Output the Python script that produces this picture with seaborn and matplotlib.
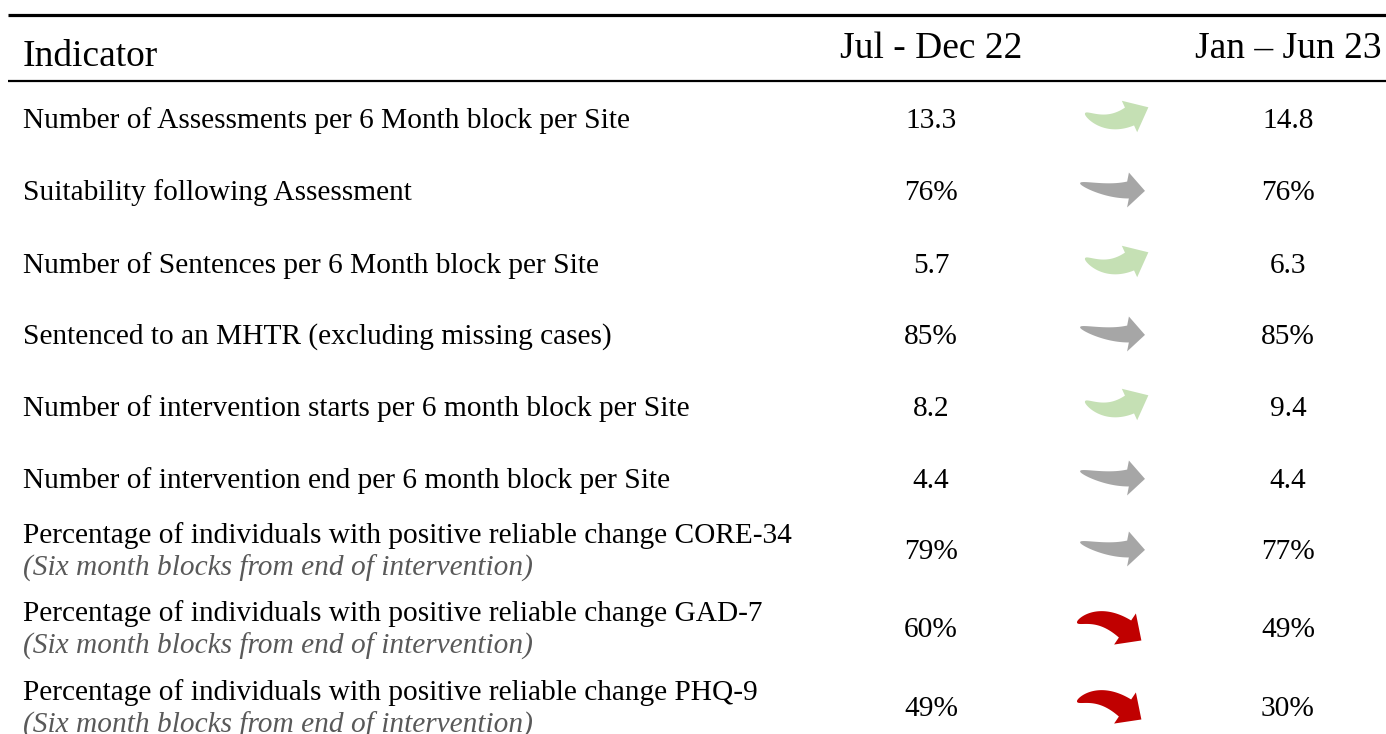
import matplotlib
matplotlib.use("Agg")
import numpy as np
import matplotlib.pyplot as plt
from matplotlib.patches import Polygon
import seaborn as sns

# ---- data ----
indicators = [
    "Number of Assessments per 6 Month block per Site",
    "Suitability following Assessment",
    "Number of Sentences per 6 Month block per Site",
    "Sentenced to an MHTR (excluding missing cases)",
    "Number of intervention starts per 6 month block per Site",
    "Number of intervention end per 6 month block per Site",
    "Percentage of individuals with positive reliable change CORE-34",
    "Percentage of individuals with positive reliable change GAD-7",
    "Percentage of individuals with positive reliable change PHQ-9",
]
subtitles = [None, None, None, None, None, None,
             "(Six month blocks from end of intervention)",
             "(Six month blocks from end of intervention)",
             "(Six month blocks from end of intervention)"]
jul_dec_22 = [13.3, 76, 5.7, 85, 8.2, 4.4, 79, 60, 49]
jan_jun_23 = [14.8, 76, 6.3, 85, 9.4, 4.4, 77, 49, 30]
is_percent = [False, True, False, True, False, False, True, True, True]
trend = ["up", "same", "up", "same", "up", "same", "same", "down", "down"]
header = ["Indicator", "Jul - Dec 22", "Jan \u2013 Jun 23"]

# ---- style ----
sns.set_theme(style="white")
plt.rcParams["font.family"] = ["Liberation Serif", "DejaVu Serif"]

W, H = 1386, 734
fig = plt.figure(figsize=(W / 100, H / 100), dpi=100)
ax = fig.add_axes([0, 0, 1, 1])
ax.set_xlim(0, W)
ax.set_ylim(H, 0)
ax.axis("off")

# layout
x_label = 23
x_col1 = 931
x_arrow = 1113
x_col2 = 1288
row_y = [118, 190, 263, 334, 406, 478, 549, 627, 706]
fs_head = 27
fs_body = 21.2
dy = 3  # vertical text nudge

ax.plot([8, W], [15, 15], color="black", lw=2.3, solid_capstyle="butt")
ax.plot([8, W], [81, 81], color="black", lw=1.6, solid_capstyle="butt")
ax.text(x_label, 54 + dy, header[0], fontsize=fs_head, ha="left", va="center", color="black")
ax.text(x_col1, 46 + dy, header[1], fontsize=fs_head, ha="center", va="center", color="black")
ax.text(x_col2, 46 + dy, header[2], fontsize=fs_head, ha="center", va="center", color="black")

# arrow geometry (pixels, relative to arrow centre of the row)
arrow_spec = {
    "up":   dict(p0=(-28, -5), c=(-6, 10), p1=(16.5, -1.5), ang=-26, hl=21, hw=35, tw=20,
                 color="#C5E0B4"),
    "same": dict(p0=(-33, -7), c=(-5, 2), p1=(15, 0), ang=3, hl=17, hw=35, tw=17,
                 color="#A6A6A6"),
    "down": dict(p0=(-36, -4), c=(-13, -16), p1=(12, 2), ang=35, hl=20, hw=38, tw=21,
                 color="#C00000"),
}


def curved_arrow(ax, xc, yc, s):
    p0 = np.array([xc + s["p0"][0], yc + s["p0"][1]], float)
    c = np.array([xc + s["c"][0], yc + s["c"][1]], float)
    p1 = np.array([xc + s["p1"][0], yc + s["p1"][1]], float)
    t = np.linspace(0, 1, 80)[:, None]
    pts = (1 - t) ** 2 * p0 + 2 * (1 - t) * t * c + t ** 2 * p1
    d = 2 * (1 - t) * (c - p0) + 2 * t * (p1 - c)
    d /= np.linalg.norm(d, axis=1, keepdims=True)
    n = np.column_stack([-d[:, 1], d[:, 0]])
    w = s["tw"] * (t[:, 0] ** 0.5)
    left = pts + n * (w[:, None] / 2)
    right = pts - n * (w[:, None] / 2)
    a = np.deg2rad(s["ang"])
    tan1 = np.array([np.cos(a), np.sin(a)])
    n1 = np.array([-tan1[1], tan1[0]])
    head = [p1 + n1 * s["hw"] / 2, p1 + tan1 * s["hl"], p1 - n1 * s["hw"] / 2]
    poly = np.vstack([left, head, right[::-1]])
    ax.add_patch(Polygon(poly, closed=True, facecolor=s["color"], edgecolor="none"))


def fmt(v, pct):
    return f"{v:.0f}%" if pct else f"{v:.1f}"


for i, name in enumerate(indicators):
    y = row_y[i]
    if subtitles[i]:
        ax.text(x_label, y - 16 + dy, name, fontsize=fs_body, ha="left", va="center", color="black")
        ax.text(x_label, y + 16 + dy, subtitles[i], fontsize=fs_body, ha="left", va="center",
                color="#595959", style="italic")
    else:
        ax.text(x_label, y + dy, name, fontsize=fs_body, ha="left", va="center", color="black")
    ax.text(x_col1, y + dy, fmt(jul_dec_22[i], is_percent[i]), fontsize=fs_body,
            ha="center", va="center", color="black")
    ax.text(x_col2, y + dy, fmt(jan_jun_23[i], is_percent[i]), fontsize=fs_body,
            ha="center", va="center", color="black")
    curved_arrow(ax, x_arrow, y, arrow_spec[trend[i]])

fig.savefig("out.png", dpi=100)
